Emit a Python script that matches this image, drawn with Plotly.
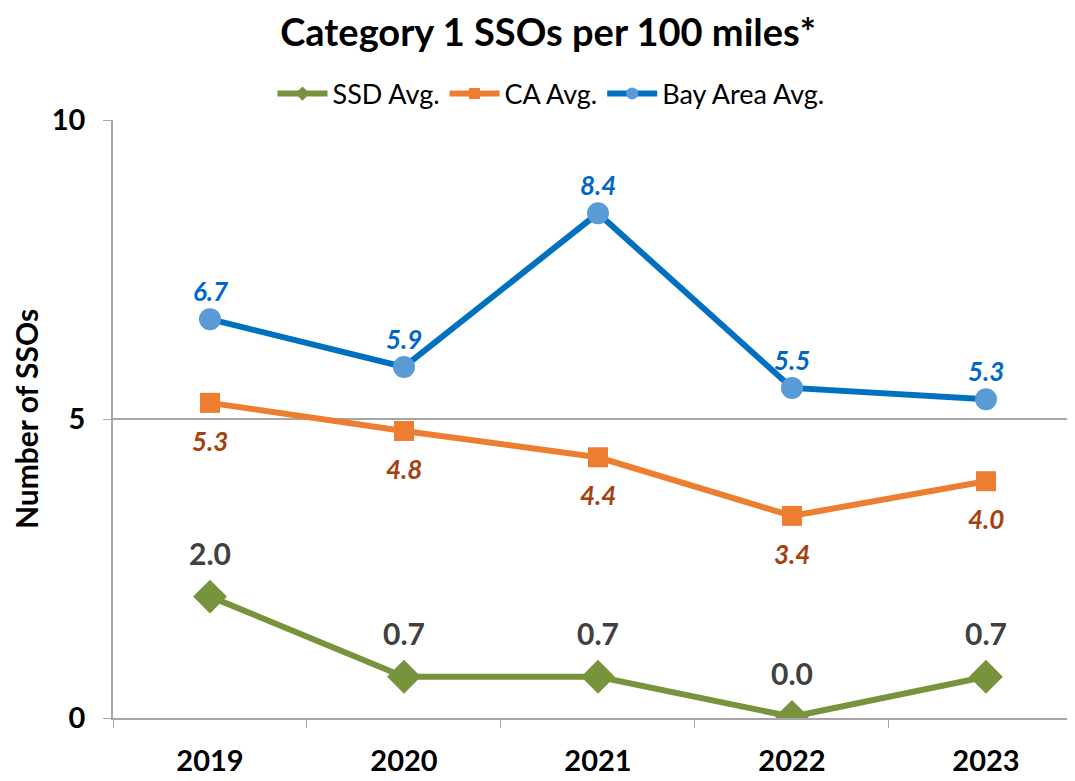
import plotly.graph_objects as go

years = ["2019", "2020", "2021", "2022", "2023"]
ssd_avg = [2.03, 0.69, 0.69, 0.02, 0.69]
ca_avg = [5.27, 4.80, 4.36, 3.38, 3.96]
bay_avg = [6.67, 5.87, 8.44, 5.52, 5.33]
ssd_labels = ["2.0", "0.7", "0.7", "0.0", "0.7"]
ca_labels = ["5.3", "4.8", "4.4", "3.4", "4.0"]
bay_labels = ["6.7", "5.9", "8.4", "5.5", "5.3"]

FONT = "Lato"
GREEN = "#77933C"
ORANGE = "#ED7D31"
BLUE_LINE = "#0070C0"
BLUE_MARK = "#5B9BD5"

fig = go.Figure()

fig.add_trace(go.Scatter(x=years, y=ssd_avg, mode="lines+markers", showlegend=False,
                         line=dict(color=GREEN, width=6),
                         marker=dict(symbol="diamond", size=26, color=GREEN)))
fig.add_trace(go.Scatter(x=years, y=ca_avg, mode="lines+markers", showlegend=False,
                         line=dict(color=ORANGE, width=6),
                         marker=dict(symbol="square", size=20, color=ORANGE)))
fig.add_trace(go.Scatter(x=years, y=bay_avg, mode="lines+markers", showlegend=False,
                         line=dict(color=BLUE_LINE, width=6),
                         marker=dict(symbol="circle", size=22, color=BLUE_MARK)))

# legend-only entries
fig.add_trace(go.Scatter(x=[None], y=[None], mode="lines+markers", name="SSD Avg.",
                         line=dict(color=GREEN, width=6),
                         marker=dict(symbol="diamond", size=11, color=GREEN)))
fig.add_trace(go.Scatter(x=[None], y=[None], mode="lines+markers", name="CA Avg.",
                         line=dict(color=ORANGE, width=6),
                         marker=dict(symbol="square", size=11, color=ORANGE)))
fig.add_trace(go.Scatter(x=[None], y=[None], mode="lines+markers", name="Bay Area Avg.",
                         line=dict(color=BLUE_LINE, width=6),
                         marker=dict(symbol="circle", size=12, color=BLUE_MARK)))

annotations = []
for i, (v, t) in enumerate(zip(ssd_avg, ssd_labels)):
    annotations.append(dict(x=i, y=v, xref="x", yref="y", text=f"<b>{t}</b>",
                            showarrow=False, yshift=44,
                            font=dict(family=FONT, size=30, color="#404040")))
for i, (v, t) in enumerate(zip(ca_avg, ca_labels)):
    annotations.append(dict(x=i, y=v, xref="x", yref="y", text=f"<b><i>{t}</i></b>",
                            showarrow=False, yshift=-38,
                            font=dict(family=FONT, size=26, color="#A5400F")))
for i, (v, t) in enumerate(zip(bay_avg, bay_labels)):
    annotations.append(dict(x=i, y=v, xref="x", yref="y", text=f"<b><i>{t}</i></b>",
                            showarrow=False, yshift=28,
                            font=dict(family=FONT, size=26, color="#0066CC")))

W, H = 1067, 773  # page body margin of 8px
fig.update_layout(
    width=W, height=H,
    paper_bgcolor="white", plot_bgcolor="white",
    margin=dict(l=105, r=0, t=112, b=63, autoexpand=False),
    title=dict(text="<b>Category 1 SSOs per 100 miles*</b>", x=540 / W, xanchor="center",
               xref="container", y=1 - 25 / H, yref="container", yanchor="middle",
               font=dict(family=FONT, size=38, color="black")),
    legend=dict(orientation="h", x=543 / W, xanchor="center", xref="container",
                y=1 - 86 / H, yref="container", yanchor="middle",
                font=dict(family=FONT, size=27, color="black"),
                itemwidth=50, tracegroupgap=0),
    annotations=annotations,
    xaxis=dict(type="category", range=[-0.5, 4.459], showgrid=False,
               showline=True, linecolor="#A6A6A6", linewidth=1.5,
               ticks="outside", tickson="boundaries", ticklen=8, tickcolor="#A6A6A6",
               ticklabelstandoff=16,
               tickfont=dict(family=FONT, size=29, color="black", weight="bold")),
    yaxis=dict(range=[0, 10], tickvals=[0, 5, 10], showgrid=True, gridcolor="#A6A6A6",
               gridwidth=1.5, zeroline=False,
               showline=True, linecolor="#A6A6A6", linewidth=1.5,
               ticks="outside", ticklen=8, tickcolor="#A6A6A6",
               ticklabelstandoff=12,
               tickfont=dict(family=FONT, size=29, color="black", weight="bold"),
               title=dict(text="<b>Number of SSOs</b>", standoff=28,
                          font=dict(family=FONT, size=30, color="black"))),
)

fig.write_html("out.html")
